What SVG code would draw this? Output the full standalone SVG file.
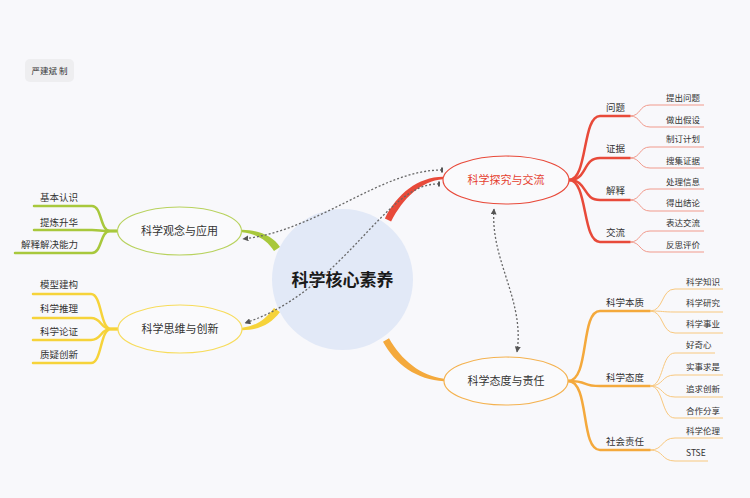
<svg xmlns="http://www.w3.org/2000/svg" width="750" height="498" viewBox="0 0 750 498">
<defs>
<style>
text{font-family:"Noto Sans CJK SC","Noto Sans",sans-serif;fill:#333}
.t1{font-size:11px}
.t2{font-size:9.5px}
.t3{font-size:8.5px}
.node{fill:#fafafc;stroke-width:1.2}
.br{fill:none;stroke-width:2.5;stroke-linecap:round}
.sb{fill:none;stroke-width:1}
.dash{fill:none;stroke:#666;stroke-width:1.3;stroke-dasharray:2 2}
</style>
<marker id="ah" viewBox="0 0 10 10" refX="9" refY="5" markerWidth="6" markerHeight="6" orient="auto-start-reverse" markerUnits="userSpaceOnUse"><path d="M0,0 L10,5 L0,10 z" fill="#555"/></marker>
<marker id="bar" viewBox="0 0 4 10" refX="2" refY="5" markerWidth="2" markerHeight="7" orient="auto" markerUnits="userSpaceOnUse"><rect x="0" y="0" width="4" height="10" fill="#555"/></marker>
</defs>
<rect width="750" height="498" fill="#f8f8fb"/>

<g id="author">
<rect x="25" y="59" width="49" height="23" rx="5" fill="#eeeef0"/>
<text x="49.5" y="74" font-size="8.5px" text-anchor="middle">严建斌 制</text>
</g>

<g id="branches">
<path d="M384.9,218.4 C397,194 418,177 443,176.8 L443,179.2 C421,181 403,198 391.1,221.6 Z" fill="#e84a3a"/>
<path d="M389,338.3 C401,360 421,376 444,378.8 L444,381.2 C417,380 395,364 383,341.7 Z" fill="#f4a93c"/>
<path d="M280,247 C273,236 259,230 242,229.8 L242,232.3 C257,234 267,240 274,251 Z" fill="#a8c83c"/>
<path d="M274,308 C265,320 256,326 242,327.8 L242,330.2 C259,330 271,324 280,312 Z" fill="#f6d33a"/>

<g stroke="#e84a3a" class="br">
<path class="br" stroke="#e84a3a" d="M569,180 C588,180 582,116 600,116 L630,116"/>
<path class="br" stroke="#e84a3a" d="M569,180 C588,180 582,158 600,158 L630,158"/>
<path class="br" stroke="#e84a3a" d="M569,180 C588,180 582,200 600,200 L630,200"/>
<path class="br" stroke="#e84a3a" d="M569,180 C588,180 582,242 600,242 L630,242"/>
</g>
<g>
<path class="sb" stroke="#f19a8c" d="M630,116 C641,116 639,105 650,105 L704,105"/>
<path class="sb" stroke="#f19a8c" d="M630,116 C641,116 639,127 650,127 L704,127"/>
<path class="sb" stroke="#f19a8c" d="M630,158 C641,158 639,147 650,147 L704,147"/>
<path class="sb" stroke="#f19a8c" d="M630,158 C641,158 639,168 650,168 L704,168"/>
<path class="sb" stroke="#f19a8c" d="M630,200 C641,200 639,189 650,189 L704,189"/>
<path class="sb" stroke="#f19a8c" d="M630,200 C641,200 639,211 650,211 L704,211"/>
<path class="sb" stroke="#f19a8c" d="M630,242 C641,242 639,231 650,231 L704,231"/>
<path class="sb" stroke="#f19a8c" d="M630,242 C641,242 639,252 650,252 L704,252"/>
</g>

<g>
<path class="br" stroke="#f4a93c" d="M568,381 C590,381 580,311 600,311 L650,311"/>
<path class="br" stroke="#f4a93c" d="M568,381 C590,381 580,386 600,386 L650,386"/>
<path class="br" stroke="#f4a93c" d="M568,381 C590,381 580,450 600,450 L650,450"/>
<path class="sb" stroke="#f8c87e" d="M650,311 C664,311 661,289 675,289 L723,289"/>
<path class="sb" stroke="#f8c87e" d="M650,311 C664,311 661,312 675,312 L723,312"/>
<path class="sb" stroke="#f8c87e" d="M650,311 C664,311 661,333 675,333 L723,333"/>
<path class="sb" stroke="#f8c87e" d="M650,386 C664,386 661,353 675,353 L715,353"/>
<path class="sb" stroke="#f8c87e" d="M650,386 C664,386 661,375 675,375 L723,375"/>
<path class="sb" stroke="#f8c87e" d="M650,386 C664,386 661,397 675,397 L723,397"/>
<path class="sb" stroke="#f8c87e" d="M650,386 C664,386 661,418 675,418 L723,418"/>
<path class="sb" stroke="#f8c87e" d="M650,450 C664,450 661,438 675,438 L723,438"/>
<path class="sb" stroke="#f8c87e" d="M650,450 C664,450 661,461 675,461 L708,461"/>
</g>

<g>
<path class="br" stroke="#a8c83c" d="M117,231 L110,231 C100,231 102,206 92,206 L34,206"/>
<path class="br" stroke="#a8c83c" d="M117,231 L110,231 C100,231 100,230 92,230 L34,230"/>
<path class="br" stroke="#a8c83c" d="M117,231 L110,231 C100,231 102,253 92,253 L15,253"/>
</g>
<g>
<path class="br" stroke="#f6d33a" d="M118,329 L111,329 C100,329 102,294 91,294 L33,294"/>
<path class="br" stroke="#f6d33a" d="M118,329 L111,329 C100,329 102,318 91,318 L33,318"/>
<path class="br" stroke="#f6d33a" d="M118,329 L111,329 C100,329 102,340 91,340 L33,340"/>
<path class="br" stroke="#f6d33a" d="M118,329 L111,329 C100,329 102,363 91,363 L33,363"/>
</g>
</g>

<g id="center">
<circle cx="342.5" cy="279.5" r="70.5" fill="#e2e9f7"/>
<text x="342.5" y="285.5" font-size="17px" font-weight="bold" text-anchor="middle" style="fill:#1a1a1a">科学核心素养</text>
</g>

<g id="n-explore">
<ellipse class="node" cx="506" cy="180" rx="63" ry="24" stroke="#e84a3a"/>
<text class="t1" x="506" y="184" text-anchor="middle" style="fill:#e5402f">科学探究与交流</text>
</g>
<g id="n-attitude">
<ellipse class="node" cx="506" cy="381" rx="62" ry="24" stroke="#f4b250"/>
<text class="t1" x="506" y="385" text-anchor="middle">科学态度与责任</text>
</g>
<g id="n-concept">
<ellipse class="node" cx="179.5" cy="231" rx="62" ry="24" stroke="#b8d25e"/>
<text class="t1" x="179.5" y="235" text-anchor="middle">科学观念与应用</text>
</g>
<g id="n-thinking">
<ellipse class="node" cx="180" cy="329" rx="62" ry="24" stroke="#f7dc5c"/>
<text class="t1" x="180" y="333" text-anchor="middle">科学思维与创新</text>
</g>

<g id="labels-explore">
<text class="t2" x="606" y="110.5">问题</text>
<text class="t2" x="606" y="151.5">证据</text>
<text class="t2" x="606" y="193.5">解释</text>
<text class="t2" x="606" y="235.5">交流</text>
<text class="t3" x="666" y="101">提出问题</text>
<text class="t3" x="666" y="123">做出假设</text>
<text class="t3" x="666" y="142">制订计划</text>
<text class="t3" x="666" y="164">搜集证据</text>
<text class="t3" x="666" y="185">处理信息</text>
<text class="t3" x="666" y="206">得出结论</text>
<text class="t3" x="666" y="226">表达交流</text>
<text class="t3" x="666" y="248">反思评价</text>
</g>
<g id="labels-attitude">
<text class="t2" x="606" y="305.5">科学本质</text>
<text class="t2" x="606" y="380.5">科学态度</text>
<text class="t2" x="606" y="444.5">社会责任</text>
<text class="t3" x="686" y="285">科学知识</text>
<text class="t3" x="686" y="306">科学研究</text>
<text class="t3" x="686" y="327">科学事业</text>
<text class="t3" x="686" y="348">好奇心</text>
<text class="t3" x="686" y="370">实事求是</text>
<text class="t3" x="686" y="392">追求创新</text>
<text class="t3" x="686" y="414">合作分享</text>
<text class="t3" x="686" y="434">科学伦理</text>
<text class="t3" x="686" y="456">STSE</text>
</g>
<g id="labels-concept">
<text class="t2" x="78" y="200.5" text-anchor="end">基本认识</text>
<text class="t2" x="78" y="225.5" text-anchor="end">提炼升华</text>
<text class="t2" x="78" y="247.5" text-anchor="end">解释解决能力</text>
</g>
<g id="labels-thinking">
<text class="t2" x="78" y="287.5" text-anchor="end">模型建构</text>
<text class="t2" x="78" y="311.5" text-anchor="end">科学推理</text>
<text class="t2" x="78" y="334.5" text-anchor="end">科学论证</text>
<text class="t2" x="78" y="357.5" text-anchor="end">质疑创新</text>
</g>

<g id="connectors">
<path class="dash" d="M442,170 C380,170 320,230 243,239" marker-start="url(#bar)" marker-end="url(#ah)"/>
<path class="dash" d="M439,184 C385,182 345,290 245,323" marker-start="url(#bar)" marker-end="url(#ah)"/>
<path class="dash" d="M494,209 C490,260 525,300 517,352" marker-start="url(#ah)" marker-end="url(#ah)"/>
</g>
</svg>
